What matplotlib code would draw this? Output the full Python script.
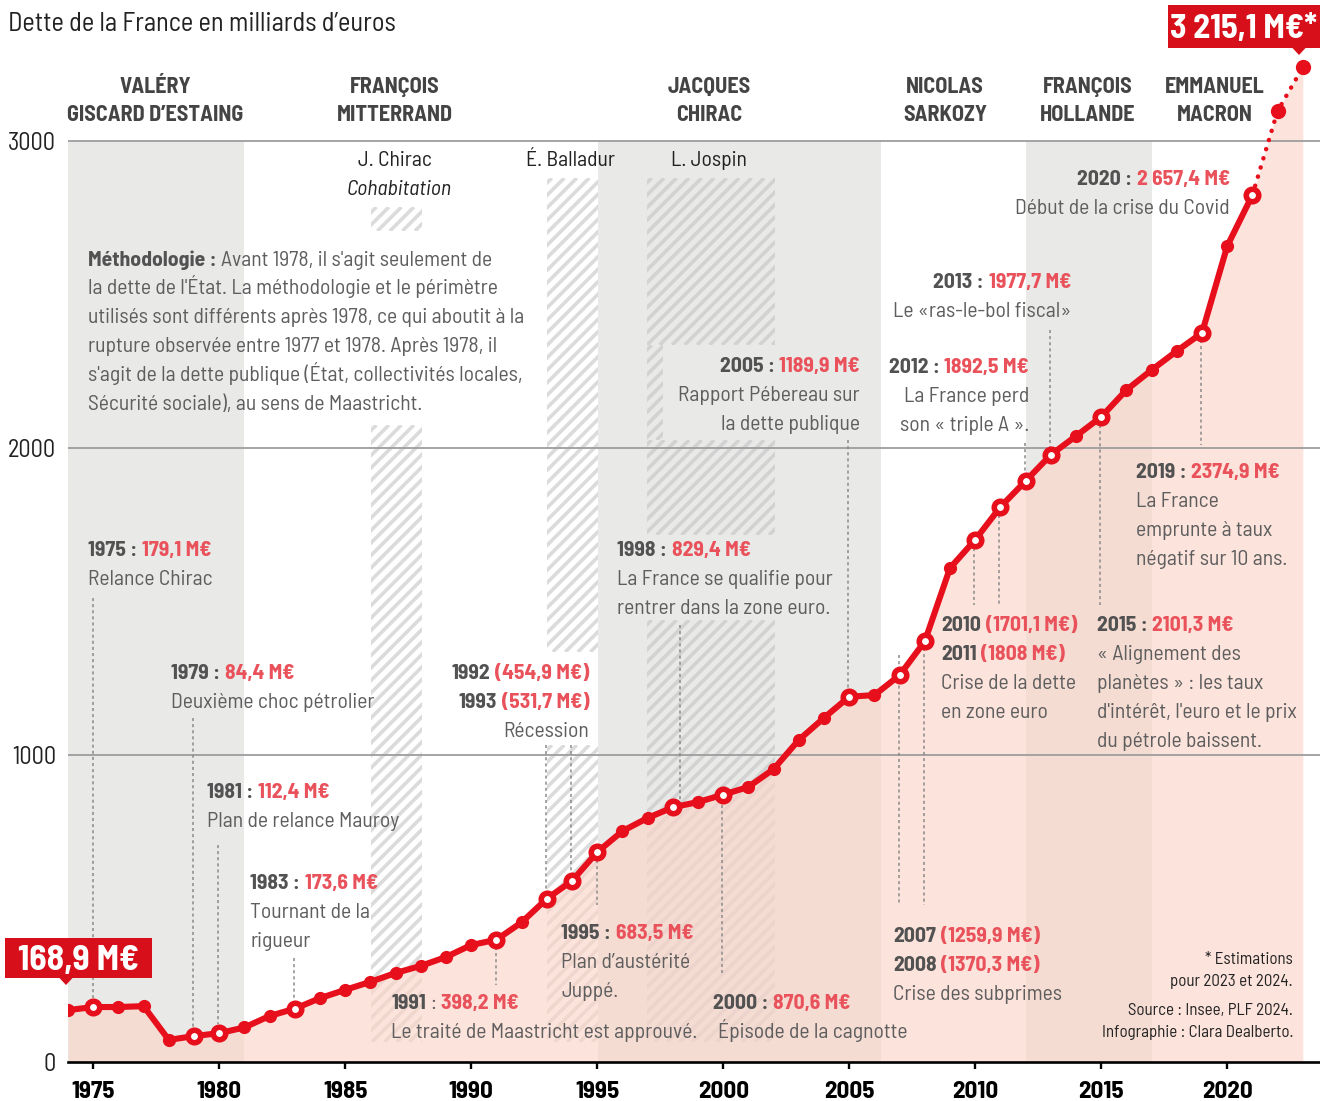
import numpy as np
import matplotlib
matplotlib.use("Agg")
import matplotlib.pyplot as plt
from matplotlib.patches import Rectangle, Polygon
from matplotlib.collections import LineCollection
from matplotlib.transforms import IdentityTransform

plt.rcParams['font.family'] = ['Barlow Semi Condensed', 'Roboto Condensed', 'Asap Condensed', 'DejaVu Sans']

# ---------------- data ----------------
years = list(range(1974, 2024))
debt = [169, 179.1, 179, 182, 72, 84.4, 94, 112.4, 150, 173.6,
        208, 235, 261, 290, 313, 342, 381, 398.2, 454.9, 531.7,
        590, 683.5, 752, 795, 829.4, 847, 870.6, 896, 954, 1049,
        1121, 1189.9, 1195, 1259.9, 1370.3, 1609, 1701.1, 1808, 1892.5, 1977.7,
        2039, 2101.3, 2189, 2254, 2316, 2374.9, 2657.4, 2824, 3098, 3240]
hollow_years = [1975, 1979, 1980, 1983, 1991, 1993, 1994, 1995, 1998, 2000,
                2005, 2007, 2008, 2010, 2011, 2012, 2013, 2015, 2019, 2021]
estimate_years = [2022, 2023]

presidents = ["VALÉRY\nGISCARD D’ESTAING", "FRANÇOIS\nMITTERRAND", "JACQUES\nCHIRAC",
              "NICOLAS\nSARKOZY", "FRANÇOIS\nHOLLANDE", "EMMANUEL\nMACRON"]
gray_terms = [(1974, 1981), (1995.05, 2006.25), (2012, 2017)]
xticks = list(range(1975, 2021, 5))
yticks = [0, 1000, 2000, 3000]

# ---------------- figure ----------------
W, H, DPI = 1320, 1101, 100
fig = plt.figure(figsize=(W / DPI, H / DPI), dpi=DPI)
X0PX, PXY, Y0PX, PXV = 68, 25.2, 1062, 0.307
ax = fig.add_axes([X0PX / W, (H - Y0PX) / H, (W - X0PX) / W, Y0PX / H])
ax.set_xlim(1974, 1974 + (W - X0PX) / PXY)
ax.set_ylim(0, Y0PX / PXV)
for s in ['top', 'right', 'left']:
    ax.spines[s].set_visible(False)
ax.spines['bottom'].set_linewidth(1.9)
ax.spines['bottom'].set_color('black')
ax.set_yticks([])
ax.set_xticks(xticks)
ax.set_xticklabels([str(x) for x in xticks], fontweight='bold', fontsize=18)
ax.tick_params(axis='x', length=5, width=1.7, color='black', pad=9)
ax.patch.set_alpha(0)

RED = '#e60f1b'
VAL = '#e9525b'
DARK = '#525252'
DESC = '#5e5e5e'
GRAYBAND = '#e9e9e8'
FS = 15.6

def yv(ypx):
    return (Y0PX - ypx) / PXV

def xv(xpx):
    return 1974 + (xpx - X0PX) / PXY

# gray bands
for a, b in gray_terms:
    ax.add_patch(Rectangle((a, 0), b - a, 3000, facecolor=GRAYBAND, edgecolor='none', zorder=0))

# hatched bands (decorative stripes)
hatch_rects = [
    (1986.04, 1988.06, 207, 231), (1986.04, 1988.06, 425, 1042),
    (1993.0, 1995.05, 178, 652), (1993.0, 1995.05, 745, 1042),
    (1996.96, 2002.05, 178, 345), (1996.96, 1997.6, 345, 440),
    (1996.96, 2002.05, 440, 535), (1996.96, 2002.05, 620, 1042),
]
for (xa, xb, ytop, ybot) in hatch_rects:
    rect = Rectangle((xa, yv(ybot)), xb - xa, yv(ytop) - yv(ybot), transform=ax.transData,
                     facecolor='none', edgecolor='none')
    ax.add_patch(rect)
    (px0, py0) = ax.transData.transform((xa, yv(ybot)))
    (px1, py1) = ax.transData.transform((xb, yv(ytop)))
    h = py1 - py0
    segs = []
    c = px0 - h - 20
    while c < px1 + 20:
        segs.append([(c, py0), (c + h, py1)])
        c += 12.5
    lc = LineCollection(segs, colors='#c4c4c4', alpha=0.6, linewidths=2.6,
                        transform=IdentityTransform(), zorder=1)
    ax.add_collection(lc)
    lc.set_clip_path(rect)

# area fill
ax.fill_between(years, debt, 0, color='#fbd5c8', alpha=0.65, lw=0, zorder=2)

# grid lines
for v in [1000, 2000, 3000]:
    ax.axhline(v, color='#9d9d9d', lw=1.3, zorder=3)

# leader lines (pixel coords)
leaders = [(93, 598, 998), (193, 718, 1028), (218, 845, 1024), (294, 958, 998),
           (496, 947, 985), (546, 745, 890), (571, 745, 872), (597, 860, 905),
           (680, 625, 800), (722, 805, 975), (848, 440, 688), (899, 655, 905),
           (924, 648, 905), (974, 548, 605), (999, 515, 605), (1025, 443, 475),
           (1050, 330, 450), (1100, 425, 605), (1201, 340, 445)]
for (x, ya, yb) in leaders:
    ax.plot([xv(x), xv(x)], [yv(ya), yv(yb)], color='#8a8a8a', lw=1.1,
            linestyle=(0, (2, 2)), zorder=4)

# main line
iy = years.index(2021)
ax.plot(years[:iy + 1], debt[:iy + 1], color=RED, lw=4.4, solid_joinstyle='round',
        solid_capstyle='round', zorder=5)
ax.plot(years[iy:], debt[iy:], color=RED, lw=3.2, linestyle=(0, (0.05, 2.1)),
        dash_capstyle='round', zorder=5)
fx = [y for y in years if y not in hollow_years and y not in estimate_years]
ax.plot(fx, [debt[years.index(y)] for y in fx], 'o', ms=9.5, color=RED, mew=0, zorder=6)
ax.plot(hollow_years, [debt[years.index(y)] for y in hollow_years], 'o', ms=9,
        mfc='white', mec=RED, mew=4, zorder=7)
ax.plot(estimate_years, [debt[years.index(y)] for y in estimate_years], 'o', ms=11,
        color=RED, mew=0, zorder=7)

# ---------------- text ----------------
renderer = fig.canvas.get_renderer()
ID = IdentityTransform()

def runs(x, yc, parts, ha='left', size=FS):
    em = size * DPI / 72
    base = H - (yc + 0.35 * em)
    arts, widths = [], []
    for p in parts:
        s, col, w = p[0], p[1], p[2]
        st = p[3] if len(p) > 3 else 'normal'
        t = fig.text(0, base, s, color=col, fontweight=w, fontstyle=st, fontsize=size,
                     transform=ID, va='baseline', ha='left')
        widths.append(t.get_window_extent(renderer).width)
        arts.append(t)
    gap = 0.22 * em
    total = sum(widths) + gap * (len(parts) - 1)
    x0 = x if ha == 'left' else (x - total if ha == 'right' else x - total / 2)
    for t, w in zip(arts, widths):
        t.set_x(x0)
        x0 += w + gap

def block(x, y0, lines, ha='left', size=FS, step=29):
    for i, parts in enumerate(lines):
        runs(x, y0 + i * step, parts, ha=ha, size=size)

def yr(s):
    return (s, DARK, 'bold')

def val(s):
    return (s, VAL, 'bold')

def d(s):
    return (s, DESC, 'normal')

# title
runs(8, 22, [("Dette de la France en milliards d’euros", '#222222', 'normal')], size=19)

# y labels
for v, ypx in zip(yticks, [1062, 755, 448, 141]):
    runs(56, ypx, [(str(v), '#222222', 'normal')], ha='right', size=17.5)

# presidents
for name, cx in zip(presidents, [155, 395, 709, 945, 1088, 1215]):
    l1, l2 = name.split("\n")
    runs(cx, 85, [(l1, '#444444', 'bold')], ha='center', size=16)
    runs(cx, 113, [(l2, '#444444', 'bold')], ha='center', size=16)

# cohabitations
runs(395, 158, [("J. Chirac", '#222222', 'normal')], ha='center')
runs(399, 187, [("Cohabitation", '#222222', 'normal', 'italic')], ha='center')
runs(571, 158, [("É. Balladur", '#222222', 'normal')], ha='center')
runs(709, 158, [("L. Jospin", '#222222', 'normal')], ha='center')

# methodology
block(88, 258, [
    [("Méthodologie :", DARK, 'bold'), d("Avant 1978, il s'agit seulement de")],
    [d("la dette de l'État. La méthodologie et le périmètre")],
    [d("utilisés sont différents après 1978, ce qui aboutit à la")],
    [d("rupture observée entre 1977 et 1978. Après 1978, il")],
    [d("s'agit de la dette publique (État, collectivités locales,")],
    [d("Sécurité sociale), au sens de Maastricht.")],
], step=28.8)

# annotations
block(88, 548, [[yr("1975 :"), val("179,1 M€")], [d("Relance Chirac")]])
block(171, 671, [[yr("1979 :"), val("84,4 M€")], [d("Deuxième choc pétrolier")]])
block(207, 790, [[yr("1981 :"), val("112,4 M€")], [d("Plan de relance Mauroy")]])
block(250, 881, [[yr("1983 :"), val("173,6 M€")], [d("Tournant de la")], [d("rigueur")]])
block(391, 1001, [[yr("1991"), (":", DESC, 'normal'), val("398,2 M€")],
                  [d("Le traité de Maastricht est approuvé.")]])
block(589, 671, [[yr("1992"), val("(454,9 M€)")], [yr("1993"), val("(531,7 M€)")],
                 [d("Récession")]], ha='right')
block(561, 931, [[yr("1995 :"), val("683,5 M€")], [d("Plan d’austérité")], [d("Juppé.")]])
block(617, 548, [[yr("1998 :"), val("829,4 M€")], [d("La France se qualifie pour")],
                 [d("rentrer dans la zone euro.")]])
runs(713, 1001, [yr("2000 :"), val("870,6 M€")])
runs(718, 1030, [d("Épisode de la cagnotte")])
block(860, 364, [[yr("2005 :"), val("1189,9 M€")], [d("Rapport Pébereau sur")],
                 [d("la dette publique")]], ha='right')
block(893, 934, [[yr("2007"), val("(1259,9 M€)")], [yr("2008"), val("(1370,3 M€)")],
                 [d("Crise des subprimes")]])
block(941, 623, [[yr("2010"), val("(1701,1 M€)")], [yr("2011"), val("(1808 M€)")],
                 [d("Crise de la dette")], [d("en zone euro")]])
block(1029, 365, [[yr("2012 :"), val("1892,5 M€")], [d("La France perd")],
                  [d("son « triple A ».")]], ha='right')
block(1071, 280, [[yr("2013 :"), val("1977,7 M€")], [d("Le «ras-le-bol fiscal»")]], ha='right')
block(1097, 623, [[yr("2015 :"), val("2101,3 M€")], [d("« Alignement des")],
                  [d("planètes » : les taux")], [d("d'intérêt, l'euro et le prix")],
                  [d("du pétrole baissent.")]])
block(1136, 470, [[yr("2019 :"), val("2374,9 M€")], [d("La France")],
                  [d("emprunte à taux")], [d("négatif sur 10 ans.")]])
block(1230, 177, [[yr("2020 :"), val("2 657,4 M€")], [d("Début de la crise du Covid")]],
      ha='right')

# sources
for ypx, s in [(958, "* Estimations"), (980, "pour 2023 et 2024."),
               (1009, "Source : Insee, PLF 2024."), (1031, "Infographie : Clara Dealberto.")]:
    runs(1293, ypx, [(s, '#222222', 'normal')], ha='right', size=12.2)

# red callout boxes
BOXRED = '#d70f1a'
def callout(x0, x1, y0, y1, tip, text, size):
    fig.add_artist(Rectangle((x0, H - y1), x1 - x0, y1 - y0, transform=ID,
                             facecolor=BOXRED, edgecolor='none', zorder=8))
    tx, ty = tip
    fig.add_artist(Polygon([(tx - 7, H - y1 + 0.5), (tx + 7, H - y1 + 0.5), (tx, H - ty)],
                           closed=True, transform=ID, facecolor=BOXRED,
                           edgecolor='none', zorder=8))
    em = size * DPI / 72
    fig.text((x0 + x1) / 2, H - ((y0 + y1) / 2 + 0.35 * em), text, color='white',
             fontweight='bold', fontsize=size, transform=ID, ha='center', va='baseline',
             zorder=9)

callout(5, 152, 938, 978, (66, 985), "168,9 M€", 25.5)
callout(1168, 1320, 5, 48, (1299, 55), "3 215,1 M€*", 24.5)

fig.savefig("out.png", dpi=DPI)
